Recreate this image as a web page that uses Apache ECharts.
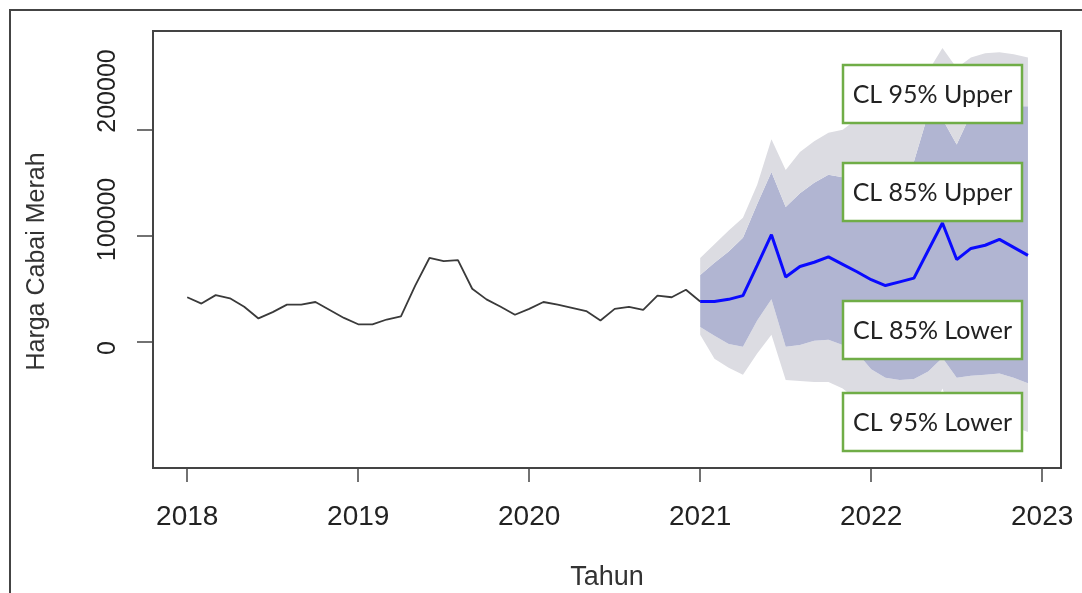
<!DOCTYPE html>
<html>
<head>
<meta charset="utf-8">
<script src="https://cdn.jsdelivr.net/npm/echarts@6/dist/echarts.min.js"></script>
<style>
  html, body { margin: 0; padding: 0; background: #fff; }
  #chart { width: 1082px; height: 593px; }
</style>
</head>
<body>
<div id="chart"></div>
<script>
// Data series (monthly)
const histStart = 2018;
const histValues = [42000, 36000, 44000, 41000, 33000, 22000, 28000, 35000, 35000, 37500, 30000, 22500,
  16500, 16500, 21000, 24000, 53000, 79000, 76000, 77000, 50000, 40000, 33000, 25500,
  31000, 37500, 35000, 32000, 29000, 20000, 31000, 33000, 30000, 43500, 42000, 49000, 38000];

const fcStart = 2021;
const fcMean = [38000, 38000, 40000, 43500, 72000, 101000, 61000, 71000, 75000, 80000, 73000, 66000,
  58500, 53000, 56500, 60000, 86000, 112000, 77500, 88000, 91000, 96500, 89000, 81500];
const fcUpper95 = [79000, 92000, 105000, 117000, 148000, 191000, 162000, 179000, 189000, 197000, 200000, 210000,
  212000, 214000, 218000, 225000, 255000, 277000, 258000, 268000, 272000, 273000, 271000, 268000];
const fcUpper85 = [63000, 74500, 85000, 98000, 130000, 160000, 127000, 140000, 150000, 157500, 155000, 150000,
  142000, 138000, 140000, 170000, 215000, 210000, 186000, 215000, 220000, 222000, 222000, 222000];
const fcLower85 = [14000, 5700, -2000, -4700, 20000, 40000, -4700, -3000, 1000, 2000, -3000, -10000,
  -26000, -34000, -36000, -35000, -28000, -15000, -34000, -32000, -31000, -30000, -34000, -39000];
const fcLower95 = [6600, -16000, -24500, -31000, -11000, 6600, -36000, -37000, -38000, -38000, -44000, -55000,
  -70000, -80000, -82000, -80000, -75000, -44000, -80000, -78000, -77000, -76000, -80000, -85000];

const xTicks = [2018, 2019, 2020, 2021, 2022, 2023];
const yTicks = [0, 100000, 200000];
const boxLabels = ['CL 95% Upper', 'CL 85% Upper', 'CL 85% Lower', 'CL 95% Lower'];

// layout of the annotation boxes
const boxTops = [65, 163, 301, 393];

// [value, time] order so that stacking happens on the value (y) dimension
function toPoints(start, values) {
  return values.map((v, i) => [v, start + i / 12]);
}

function diff(a, b) {
  return a.map((v, i) => v - b[i]);
}

// one layer of the stacked confidence band
function band(name, values, color) {
  const s = {
    name: name,
    type: 'line',
    stack: 'ci',
    stackStrategy: 'all',
    symbol: 'none',
    silent: true,
    data: toPoints(fcStart, values),
    encode: { x: 1, y: 0 },
    lineStyle: { opacity: 0 },
    z: 1
  };
  if (color) s.areaStyle = { color: color, opacity: 1 };
  return s;
}

const chart = echarts.init(document.getElementById('chart'));

chart.setOption({
  animation: false,
  textStyle: { fontFamily: 'Liberation Sans' },
  grid: {
    left: 153, right: 21, top: 31, bottom: 125,
    outerBoundsMode: 'none',
    show: true, borderColor: '#444', borderWidth: 2
  },
  xAxis: {
    type: 'value',
    min: 2017.8,
    max: 2023.11,
    name: 'Tahun',
    nameLocation: 'middle',
    nameGap: 96,
    nameTextStyle: { fontSize: 27, color: '#333' },
    axisLine: { show: false, onZero: false },
    splitLine: { show: false },
    axisTick: { customValues: xTicks, length: 14, lineStyle: { color: '#444', width: 1.5 } },
    axisLabel: { customValues: xTicks, formatter: v => String(v), fontSize: 28, color: '#222', margin: 35 }
  },
  yAxis: [{
    type: 'value',
    position: 'left',
    min: -119000,
    max: 293000,
    axisLine: { show: false, onZero: false },
    splitLine: { show: false },
    axisTick: { customValues: yTicks, length: 16, lineStyle: { color: '#444', width: 1.5 } },
    axisLabel: { show: false }
  }, {
    // labels only: the source image spaces its tick labels a bit wider than its ticks
    type: 'value',
    position: 'left',
    min: -93400,
    max: 246700,
    name: 'Harga Cabai Merah',
    nameLocation: 'middle',
    nameGap: 103,
    nameRotate: 90,
    nameTextStyle: { fontSize: 25, color: '#333', padding: [0, 24, 0, 0] },
    axisLine: { show: false, onZero: false },
    axisTick: { show: false },
    splitLine: { show: false },
    axisLabel: { customValues: yTicks, formatter: v => String(v), rotate: 90, fontSize: 25, color: '#222', margin: 32 }
  }],
  series: [
    band('base', fcLower95, null),
    band('lo95', diff(fcLower85, fcLower95), '#dcdce2'),
    band('ci85', diff(fcUpper85, fcLower85), '#b1b5d2'),
    band('hi95', diff(fcUpper95, fcUpper85), '#dcdce2'),
    {
      name: 'Aktual',
      type: 'line',
      symbol: 'none',
      data: toPoints(histStart, histValues),
      encode: { x: 1, y: 0 },
      lineStyle: { color: '#3a3a3a', width: 1.8 },
      z: 3
    },
    {
      name: 'Forecast',
      type: 'line',
      symbol: 'none',
      data: toPoints(fcStart, fcMean),
      encode: { x: 1, y: 0 },
      lineStyle: { color: '#0a0aff', width: 3 },
      z: 4
    }
  ],
  graphic: [{
    type: 'rect',
    shape: { x: 10, y: 10, width: 1100, height: 620 },
    style: { fill: 'none', stroke: '#444', lineWidth: 2 },
    z: 0
  }].concat(boxLabels.map((label, i) => ({
    type: 'group',
    x: 843,
    y: boxTops[i],
    children: [{
      type: 'rect',
      z: 100,
      shape: { x: 0, y: 0, width: 179, height: 58 },
      style: { fill: '#fff', stroke: '#70AD47', lineWidth: 2.5 }
    }, {
      type: 'text',
      z: 101,
      x: 89.5,
      y: 30,
      style: { text: label, fontFamily: 'Lato', fontSize: 25, fill: '#222', align: 'center', verticalAlign: 'middle' }
    }]
  })))
});
</script>
</body>
</html>
